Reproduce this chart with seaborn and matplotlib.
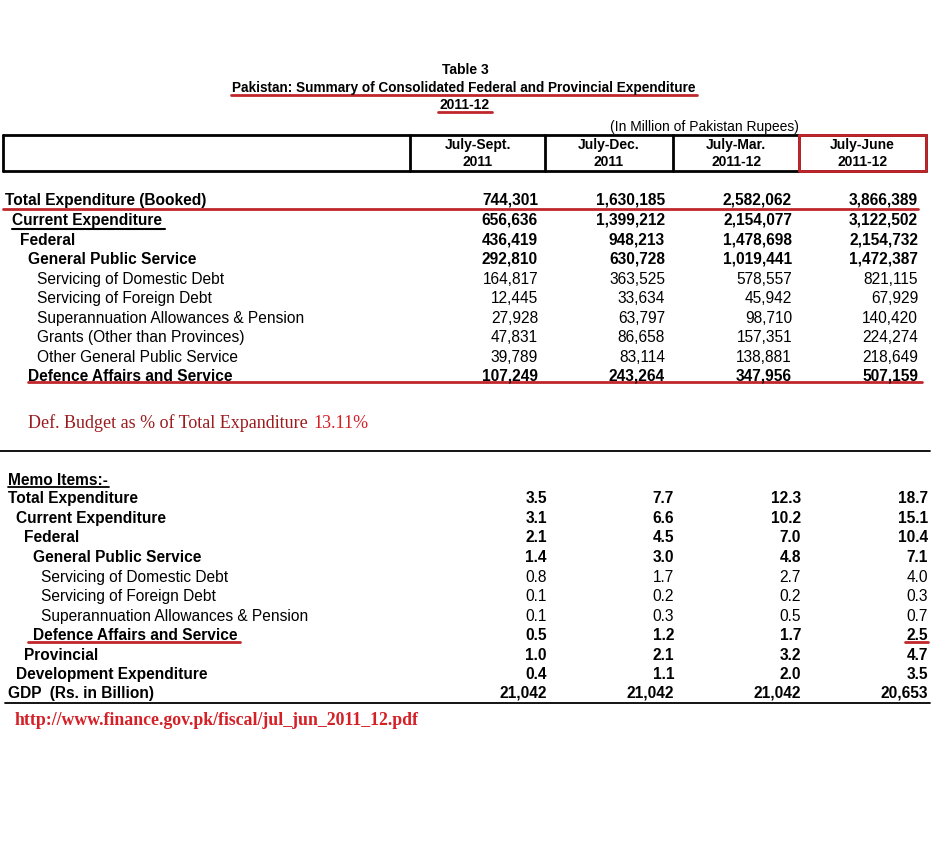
import matplotlib
matplotlib.use('Agg')
import matplotlib.pyplot as plt
import seaborn as sns

# Dados da tabela
periods = ['July-Sept.\n2011', 'July-Dec.\n2011', 'July-Mar.\n2011-12', 'July-June\n2011-12']

main_labels = ['Total Expenditure (Booked)', 'Current Expenditure', 'Federal',
               'General Public Service', 'Servicing of Domestic Debt',
               'Servicing of Foreign Debt', 'Superannuation Allowances & Pension',
               'Grants (Other than Provinces)', 'Other General Public Service',
               'Defence Affairs and Service']
main_indent = [5, 12, 20, 28, 37, 37, 37, 37, 37, 28]
main_bold = [True, True, True, True, False, False, False, False, False, True]
jul_sep = [744301, 656636, 436419, 292810, 164817, 12445, 27928, 47831, 39789, 107249]
jul_dec = [1630185, 1399212, 948213, 630728, 363525, 33634, 63797, 86658, 83114, 243264]
jul_mar = [2582062, 2154077, 1478698, 1019441, 578557, 45942, 98710, 157351, 138881, 347956]
jul_jun = [3866389, 3122502, 2154732, 1472387, 821115, 67929, 140420, 224274, 218649, 507159]

memo_labels = ['Total Expenditure', 'Current Expenditure', 'Federal',
               'General Public Service', 'Servicing of Domestic Debt',
               'Servicing of Foreign Debt', 'Superannuation Allowances & Pension',
               'Defence Affairs and Service', 'Provincial',
               'Development Expenditure', 'GDP  (Rs. in Billion)']
memo_indent = [8, 16, 24, 33, 41, 41, 41, 33, 24, 16, 8]
memo_bold = [True, True, True, True, False, False, False, True, True, True, True]
memo_sep = [3.5, 3.1, 2.1, 1.4, 0.8, 0.1, 0.1, 0.5, 1.0, 0.4, 21042]
memo_dec = [7.7, 6.6, 4.5, 3.0, 1.7, 0.2, 0.3, 1.2, 2.1, 1.1, 21042]
memo_mar = [12.3, 10.2, 7.0, 4.8, 2.7, 0.2, 0.5, 1.7, 3.2, 2.0, 21042]
memo_jun = [18.7, 15.1, 10.4, 7.1, 4.0, 0.3, 0.7, 2.5, 4.7, 3.5, 20653]

sns.set_theme(style='white')
plt.rcParams['font.family'] = ['Liberation Sans', 'DejaVu Sans']
plt.rcParams['text.color'] = 'black'

fig = plt.figure(figsize=(9.34, 8.63), dpi=100)
ax = fig.add_axes([0, 0, 1, 1])
ax.set_xlim(0, 934)
ax.set_ylim(863, 0)
ax.axis('off')

FS = 11.2
RED = '#c0262b'
DARKRED = '#9b1c1f'
SERIF = ['Liberation Serif', 'DejaVu Serif']

# Títulos
ax.text(465, 70, 'Table 3', ha='center', va='center', fontsize=10, fontweight='bold')
ax.text(464, 88, 'Pakistan: Summary of Consolidated Federal and Provincial Expenditure',
        ha='center', va='center', fontsize=9.8, fontweight='bold')
ax.plot([231, 697], [95, 95], color=RED, lw=2)
ax.text(465, 105, '2011-12', ha='center', va='center', fontsize=10, fontweight='bold')
ax.plot([438, 492], [112, 112], color=RED, lw=2)
ax.text(704, 127, '(In Million of Pakistan Rupees)', ha='center', va='center', fontsize=10)

# Cabeçalho
ax.plot([3, 926], [135, 135], color='black', lw=2)
ax.plot([3, 926], [171, 171], color='black', lw=2)
for x in [3, 410, 545, 673, 799, 926]:
    ax.plot([x, x], [135, 171], color='black', lw=2)
ax.plot([799, 926, 926, 799, 799], [135, 135, 171, 171, 135], color=RED, lw=2)
head_x = [478, 609, 736, 862]
for x, p in zip(head_x, periods):
    top, bottom = p.split('\n')
    ax.text(x, 145, top, ha='center', va='center', fontsize=10, fontweight='bold')
    ax.text(x, 162, bottom, ha='center', va='center', fontsize=10, fontweight='bold')

# Parte principal
main_y = [200, 220, 240, 259, 279, 298, 318, 337, 357, 376]
num_x = [538, 665, 792, 918]
for i, lab in enumerate(main_labels):
    w = 'bold' if main_bold[i] else 'normal'
    ax.text(main_indent[i], main_y[i], lab, ha='left', va='center', fontsize=FS, fontweight=w)
    for x, col in zip(num_x, [jul_sep, jul_dec, jul_mar, jul_jun]):
        ax.text(x, main_y[i], f'{col[i]:,}', ha='right', va='center', fontsize=FS, fontweight=w)

ax.plot([3, 918], [209, 209], color=RED, lw=2)
ax.plot([12, 165], [229, 229], color='black', lw=1.5)
ax.plot([28, 922], [382, 382], color=RED, lw=2)

ax.text(28, 423, 'Def. Budget as % of Total Expanditure', ha='left', va='center',
        fontsize=13, color=DARKRED, family=SERIF)
ax.text(313, 423, '13.11%', ha='left', va='center', fontsize=13, color='#d42027', family=SERIF)

ax.plot([0, 930], [451, 451], color='black', lw=1.3)

# Itens memo
ax.text(8, 480, 'Memo Items:-', ha='left', va='center', fontsize=FS, fontweight='bold')
ax.plot([8, 109], [487, 487], color='black', lw=1.3)
memo_y = [498, 518, 537, 557, 577, 596, 616, 635, 655, 674, 693]
memo_x = [547, 674, 801, 928]
for i, lab in enumerate(memo_labels):
    w = 'bold' if memo_bold[i] else 'normal'
    ax.text(memo_indent[i], memo_y[i], lab, ha='left', va='center', fontsize=FS, fontweight=w)
    for x, col in zip(memo_x, [memo_sep, memo_dec, memo_mar, memo_jun]):
        v = col[i]
        s = f'{v:,}' if i == len(memo_labels) - 1 else f'{v:.1f}'
        ax.text(x, memo_y[i], s, ha='right', va='center', fontsize=FS, fontweight=w)

ax.plot([28, 240], [642, 642], color=RED, lw=2)
ax.plot([905, 928], [642, 642], color=RED, lw=2)
ax.plot([5, 930], [703, 703], color='black', lw=1.3)

ax.text(15, 720, 'http://www.finance.gov.pk/fiscal/jul_jun_2011_12.pdf', ha='left', va='center',
        fontsize=12.8, color='#d42027', family=SERIF, fontweight='bold')

fig.savefig('out.png', dpi=100, facecolor='white')
